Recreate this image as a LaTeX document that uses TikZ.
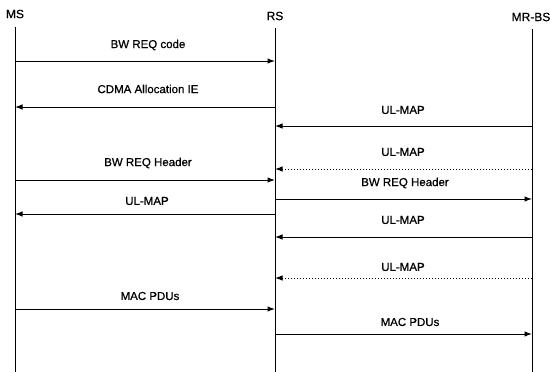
\documentclass[tikz,border=0pt]{standalone}
\usepackage{fontspec}
\setmainfont{Liberation Sans}[FakeBold=0.6]
\usetikzlibrary{arrows.meta}
\begin{document}
\begin{tikzpicture}[x=1pt,y=-1pt,
  lifeline/.style={line width=1pt, draw=black},
  msg/.style={line width=1pt, draw=black, -{Latex[length=7.5pt,width=5.5pt]}},
  dotmsg/.style={msg, dotted},
  lbl/.style={font=\fontsize{11.5}{13}\selectfont, inner sep=0pt},
  head/.style={font=\fontsize{12}{13}\selectfont, inner sep=0pt}]
\useasboundingbox (0,0) rectangle (550,372);
% heads
\node[head] (MS) at (15,14) {MS};
\node[head] (RS) at (275,16) {RS};
\node[head] (BS) at (531,17) {MR-BS};
% lifelines
\coordinate (MSt) at (15,27);  \coordinate (MSb) at (15,372);
\coordinate (RSt) at (275,28); \coordinate (RSb) at (275,372);
\coordinate (BSt) at (532,29); \coordinate (BSb) at (532,372);
\draw[lifeline] (MSt) -- (MSb);
\draw[lifeline] (RSt) -- (RSb);
\draw[lifeline] (BSt) -- (BSb);
% message end points
\coordinate (m1a) at (15,61);   \coordinate (m1b) at (275,61);
\coordinate (m2a) at (275,107); \coordinate (m2b) at (15,107);
\coordinate (m3a) at (532,126); \coordinate (m3b) at (275,126);
\coordinate (m4a) at (532,169); \coordinate (m4b) at (275,169);
\coordinate (m5a) at (15,180);  \coordinate (m5b) at (275,180);
\coordinate (m6a) at (275,199); \coordinate (m6b) at (532,199);
\coordinate (m7a) at (275,214); \coordinate (m7b) at (15,214);
\coordinate (m8a) at (532,237); \coordinate (m8b) at (275,237);
\coordinate (m9a) at (532,278); \coordinate (m9b) at (275,278);
\coordinate (m10a) at (15,309); \coordinate (m10b) at (275,309);
\coordinate (m11a) at (275,334); \coordinate (m11b) at (532,334);
% messages
\draw[msg] (m1a) -- (m1b);
\draw[msg] (m2a) -- (m2b);
\draw[msg] (m3a) -- (m3b);
\draw[dotmsg] (m4a) -- (m4b);
\draw[msg] (m5a) -- (m5b);
\draw[msg] (m6a) -- (m6b);
\draw[msg] (m7a) -- (m7b);
\draw[msg] (m8a) -- (m8b);
\draw[dotmsg] (m9a) -- (m9b);
\draw[msg] (m10a) -- (m10b);
\draw[msg] (m11a) -- (m11b);
% labels
\node[lbl] (l1) at (148,45) {BW REQ code};
\node[lbl] (l2) at (148,89) {CDMA Allocation IE};
\node[lbl] (l3) at (403,110) {UL-MAP};
\node[lbl] (l4) at (403,152) {UL-MAP};
\node[lbl] (l5) at (148,163) {BW REQ Header};
\node[lbl] (l6) at (405,183) {BW REQ Header};
\node[lbl] (l7) at (147,201) {UL-MAP};
\node[lbl] (l8) at (403,220) {UL-MAP};
\node[lbl] (l9) at (403,267) {UL-MAP};
\node[lbl] (l10) at (150,296) {MAC PDUs};
\node[lbl] (l11) at (410,322) {MAC PDUs};
\end{tikzpicture}
\end{document}
